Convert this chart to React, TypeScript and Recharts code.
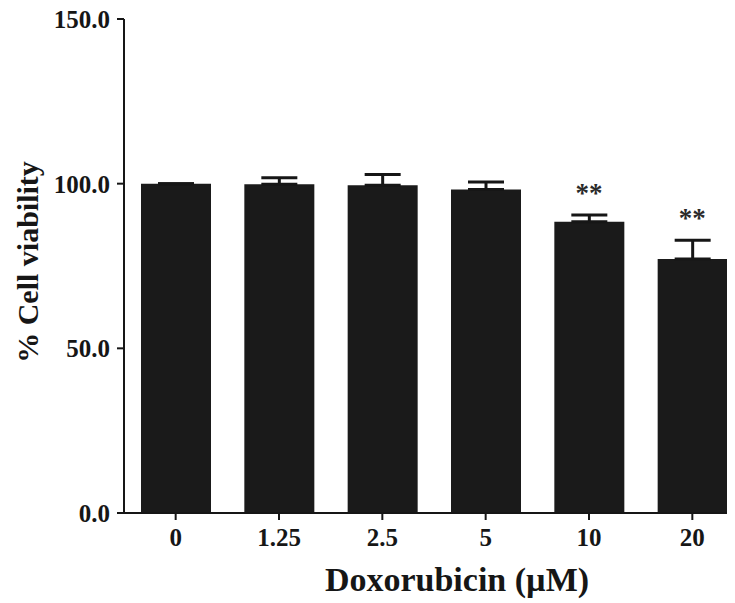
import React from 'react';
import { ComposedChart, Bar, Line, XAxis, YAxis, ErrorBar, LabelList } from 'recharts';

const doses = ['0', '1.25', '2.5', '5', '10', '20'];
const viability = [100, 99.8, 99.5, 98.2, 88.4, 77.1];
const sdUpper = [0, 2.0, 3.3, 2.3, 2.1, 5.7];
const significance = ['', '', '', '', '**', '**'];
const yTicks = [0, 50, 100, 150];

const data = doses.map((d, i) => ({
  dose: d,
  v: viability[i],
  err: [0, sdUpper[i]],
  top: viability[i] + sdUpper[i],
  sig: significance[i],
}));

const FONT = '"Liberation Serif", "Times New Roman", serif';
const INK = '#161616';

const SigLabel = (props: any) => {
  const { x, y, value } = props;
  if (!value) return null;
  return (
    <text x={x} y={y - 13} textAnchor="middle" fontFamily={FONT} fontWeight="bold" fontSize={27} fill="#2a2a2a">
      {value}
    </text>
  );
};

const YTitle = (props: any) => {
  const vb = props.viewBox || {};
  const cy = (vb.y ?? 0) + (vb.height ?? 0) / 2 - 4;
  return (
    <text
      x={27}
      y={cy}
      transform={`rotate(-90, 27, ${cy})`}
      textAnchor="middle"
      dominantBaseline="central"
      fontFamily={FONT}
      fontWeight="bold"
      fontSize={30}
      fill={INK}
    >
      % Cell viability
    </text>
  );
};

const XTitle = (props: any) => {
  const vb = props.viewBox || {};
  const cx = (vb.x ?? 0) + (vb.width ?? 0) / 2 + 23;
  return (
    <text x={cx} y={591} textAnchor="middle" fontFamily={FONT} fontWeight="bold" fontSize={34} fill={INK}>
      Doxorubicin (µM)
    </text>
  );
};

export default function App() {
  return (
    <div style={{ margin: '-8px 0 0 -8px', width: 735, height: 603, overflow: 'hidden' }}>
      <ComposedChart
        width={744}
        height={603}
        data={data}
        margin={{ top: 19, right: 0, left: 0, bottom: 0 }}
        barCategoryGap={0}
      >
        <XAxis
          dataKey="dose"
          height={90}
          axisLine={{ stroke: INK, strokeWidth: 2 }}
          tickLine={{ stroke: INK, strokeWidth: 2 }}
          tickSize={7}
          tickMargin={8}
          tick={{ fontFamily: FONT, fontWeight: 'bold', fontSize: 25, fill: INK }}
          interval={0}
          label={<XTitle />}
        />
        <YAxis
          width={124}
          domain={[0, 150]}
          ticks={yTicks}
          interval={0}
          axisLine={{ stroke: INK, strokeWidth: 2 }}
          tickLine={{ stroke: INK, strokeWidth: 2 }}
          tickSize={7}
          tickMargin={7}
          tickFormatter={(v: number) => v.toFixed(1)}
          tick={{ fontFamily: FONT, fontWeight: 'bold', fontSize: 25, fill: INK }}
          label={<YTitle />}
        />
        <Bar dataKey="v" fill="#1a1a1a" barSize={70} isAnimationActive={false}>
          <ErrorBar dataKey="err" width={18} stroke={INK} strokeWidth={3} direction="y" />
        </Bar>
        <Line
          dataKey="top"
          stroke="none"
          dot={false}
          activeDot={false}
          isAnimationActive={false}
        >
          <LabelList dataKey="sig" content={<SigLabel />} />
        </Line>
      </ComposedChart>
    </div>
  );
}
